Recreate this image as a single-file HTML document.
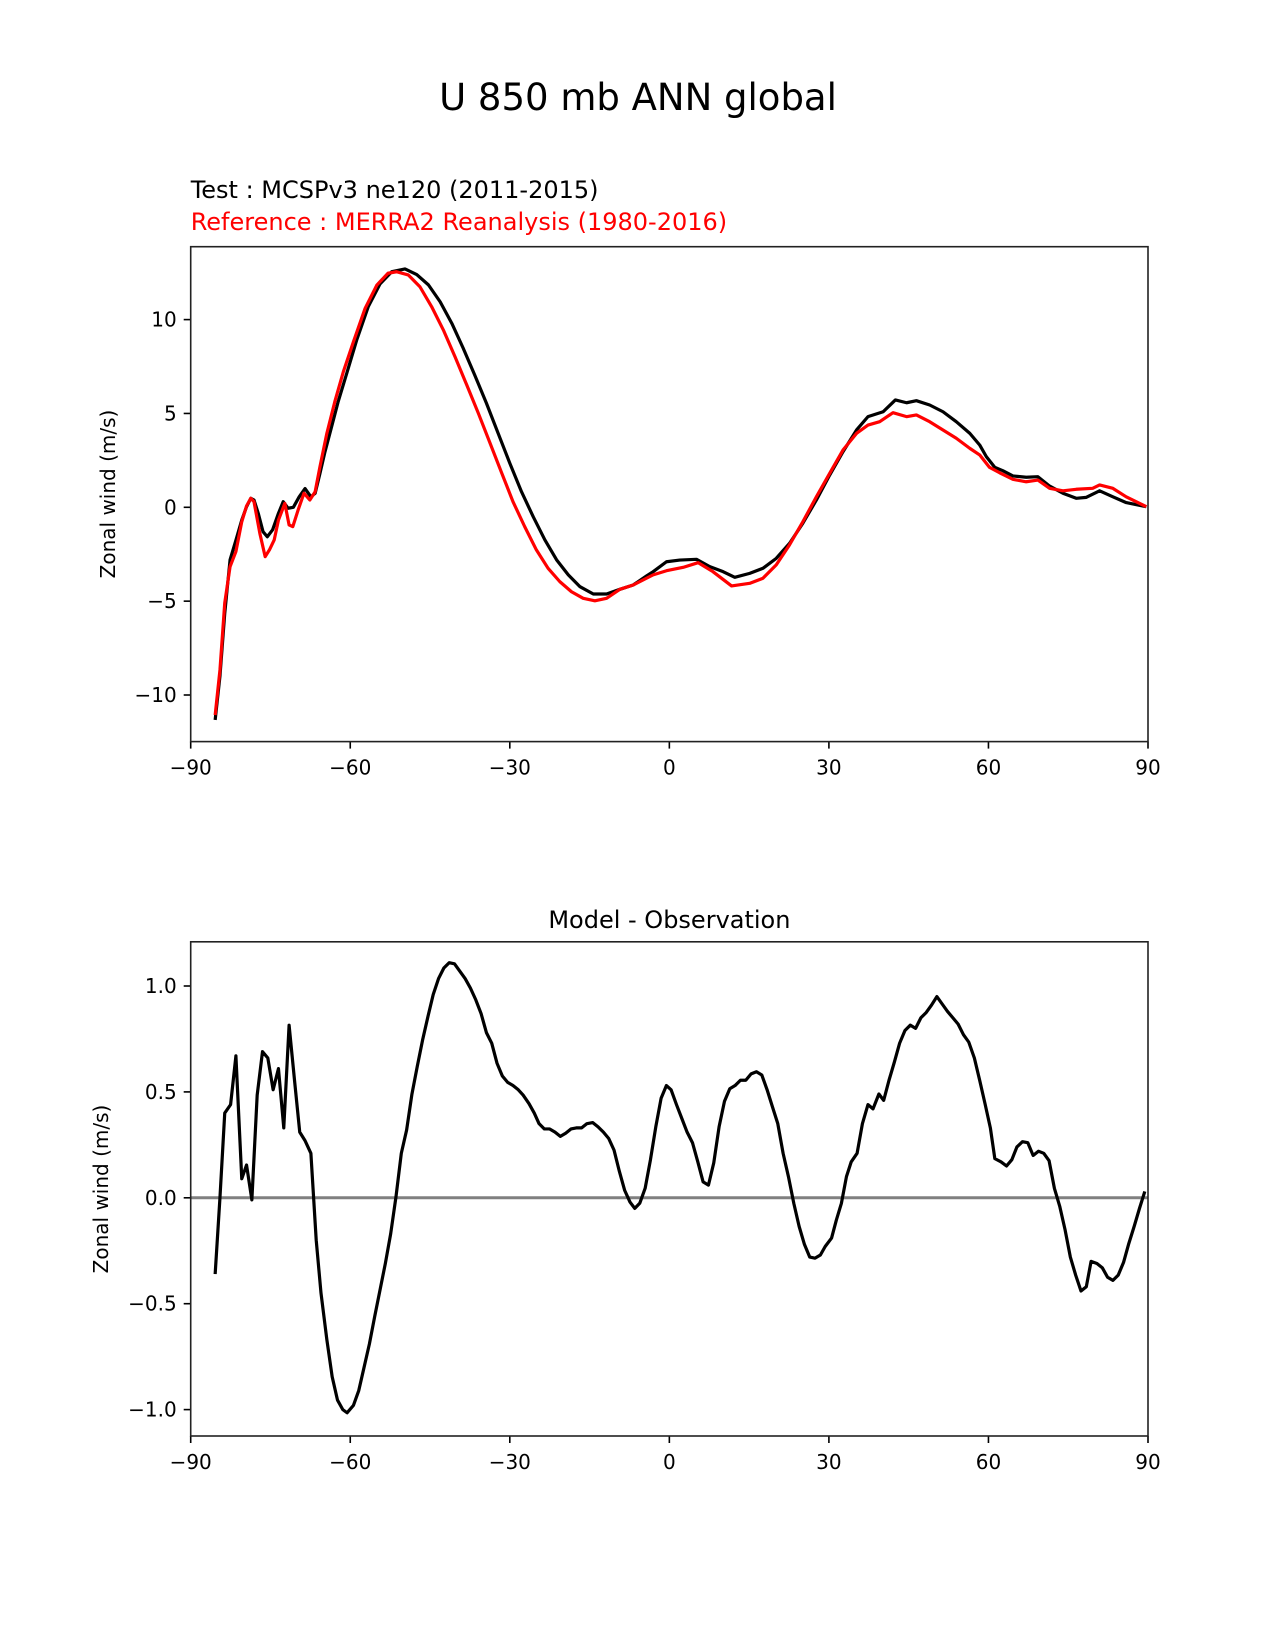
<!DOCTYPE html>
<html>
<head>
<meta charset="utf-8">
<style>
html,body{margin:0;padding:0;background:#fff;}
svg{display:block;}
text{font-family:"DejaVu Sans","Liberation Sans",sans-serif;}
</style>
</head>
<body>
<svg id="fig" width="1275" height="1650" viewBox="0 0 1275 1650" xmlns="http://www.w3.org/2000/svg">
  <rect x="0" y="0" width="1275" height="1650" fill="#fff"/>
  <text x="638" y="110" font-size="37" text-anchor="middle" fill="#000">U 850 mb ANN global</text>
  <text x="190.7" y="198" font-size="24" fill="#000">Test : MCSPv3 ne120 (2011-2015)</text>
  <text x="190.7" y="230" font-size="24" fill="#ff0000">Reference : MERRA2 Reanalysis (1980-2016)</text>
  <text x="669.4" y="928" font-size="24" text-anchor="middle" fill="#000">Model - Observation</text>
  <g id="top"></g>
  <g id="bot"></g>
</svg>
<script>
// ---- data ----
const xTicks = [-90, -60, -30, 0, 30, 60, 90];
const topYTicks = [-10, -5, 0, 5, 10];
const botYTicks = [-1.0, -0.5, 0.0, 0.5, 1.0];
const botYTickLabels = ["\u22121.0", "\u22120.5", "0.0", "0.5", "1.0"];

const testLat = [-85.4,-84.5,-83.6,-82.6,-81.5,-80.4,-79.5,-78.7,-78.1,-77.3,-76.4,-75.6,-74.6,-73.5,-72.6,-71.7,-70.7,-69.6,-68.5,-67.4,-66.6,-65.7,-64.8,-63.5,-62.3,-60.7,-58.8,-56.6,-54.4,-52.2,-49.7,-47.5,-45.3,-43.1,-40.9,-38.8,-36.6,-34.4,-32.2,-30.0,-27.8,-25.6,-23.4,-21.2,-19.0,-16.8,-14.3,-11.8,-9.3,-6.8,-4.3,-3.05,-0.54,1.96,5.1,7.6,10.1,12.3,15.1,17.6,20.1,22.6,25.1,27.65,30.15,32.65,35.2,37.35,40.2,42.5,44.6,46.45,48.95,51.45,53.95,56.5,58.35,59.6,61.2,62.7,64.6,67.1,69.3,71.5,74.0,76.5,78.4,80.9,83.4,85.9,89.7];
const testVal = [-11.33,-9.0,-5.65,-2.8,-1.75,-0.68,0.03,0.48,0.39,-0.32,-1.3,-1.57,-1.2,-0.32,0.3,-0.05,0.0,0.56,1.0,0.56,0.75,1.8,2.9,4.3,5.6,7.1,8.9,10.7,11.9,12.55,12.7,12.4,11.85,10.95,9.8,8.5,7.05,5.55,3.95,2.35,0.83,-0.5,-1.74,-2.8,-3.6,-4.23,-4.62,-4.62,-4.37,-4.14,-3.66,-3.43,-2.9,-2.81,-2.77,-3.16,-3.43,-3.73,-3.52,-3.25,-2.72,-1.92,-0.85,0.39,1.72,2.96,4.12,4.83,5.09,5.72,5.57,5.68,5.45,5.09,4.56,3.94,3.32,2.7,2.13,1.95,1.67,1.6,1.63,1.13,0.75,0.48,0.53,0.88,0.56,0.25,0.03];

const refLat = [-85.4,-84.5,-83.6,-82.6,-81.5,-80.4,-79.5,-78.7,-78.1,-77.0,-76.0,-75.2,-74.3,-73.5,-72.3,-71.5,-70.8,-69.8,-68.7,-67.6,-66.6,-65.7,-64.4,-62.9,-61.3,-59.4,-57.2,-55.0,-52.9,-51.3,-49.1,-46.9,-44.7,-42.5,-40.3,-38.1,-35.9,-33.7,-31.5,-29.4,-27.2,-25.0,-22.8,-20.6,-18.4,-16.2,-14.0,-11.8,-9.3,-6.8,-4.3,-3.05,-0.54,2.6,5.4,8.2,11.7,15.1,17.6,20.1,22.6,25.1,27.65,30.15,32.65,35.2,37.35,39.55,42.05,44.6,46.45,48.95,51.45,53.95,56.5,58.35,60.2,62.1,64.6,67.1,69.3,71.5,74.0,76.5,79.6,80.9,83.4,85.9,89.7];
const refVal = [-11.07,-8.67,-5.1,-3.16,-2.36,-0.77,0.07,0.48,0.3,-1.39,-2.63,-2.27,-1.74,-0.68,0.21,-0.94,-1.03,-0.14,0.75,0.39,0.83,2.16,3.94,5.63,7.22,8.82,10.6,11.84,12.47,12.55,12.38,11.75,10.69,9.45,8.02,6.52,5.0,3.41,1.81,0.3,-1.03,-2.27,-3.25,-3.96,-4.5,-4.85,-4.98,-4.85,-4.37,-4.14,-3.78,-3.6,-3.38,-3.2,-2.95,-3.43,-4.19,-4.05,-3.78,-3.07,-2.0,-0.77,0.56,1.81,3.05,3.94,4.38,4.56,5.04,4.83,4.92,4.56,4.12,3.68,3.14,2.79,2.13,1.84,1.49,1.36,1.45,1.01,0.88,0.96,1.01,1.19,1.01,0.56,0.03];

const diffLat = [-85.4,-84.5,-83.6,-82.5,-81.5,-80.4,-79.5,-78.5,-77.5,-76.5,-75.5,-74.5,-73.5,-72.5,-71.5,-70.5,-69.5,-68.5,-67.4,-66.4,-65.5,-64.4,-63.4,-62.4,-61.4,-60.6,-59.4,-58.4,-57.4,-56.4,-55.4,-54.4,-53.4,-52.4,-51.4,-50.4,-49.4,-48.4,-47.4,-46.4,-45.4,-44.4,-43.4,-42.4,-41.4,-40.4,-39.4,-38.4,-37.4,-36.4,-35.4,-34.4,-33.4,-32.4,-31.4,-30.4,-29.4,-28.4,-27.5,-26.4,-25.4,-24.5,-23.5,-22.5,-21.5,-20.5,-19.5,-18.5,-17.5,-16.5,-15.5,-14.4,-13.4,-12.4,-11.4,-10.4,-9.4,-8.4,-7.4,-6.5,-5.55,-4.55,-3.55,-2.55,-1.55,-0.55,0.33,1.34,2.34,3.34,4.35,5.35,6.35,7.35,8.35,9.35,10.36,11.36,12.36,13.37,14.37,15.37,16.38,17.38,18.38,19.38,20.39,21.39,22.39,23.4,24.4,25.4,26.4,27.4,28.4,29.3,30.5,31.4,32.35,33.3,34.2,35.3,36.3,37.35,38.3,39.4,40.3,41.3,42.3,43.3,44.3,45.3,46.3,47.3,48.3,49.3,50.3,51.3,52.3,53.3,54.3,55.3,56.3,57.35,58.35,59.35,60.36,61.2,62.35,63.4,64.4,65.35,66.4,67.4,68.4,69.4,70.4,71.4,72.4,73.4,74.4,75.4,76.4,77.4,78.4,79.3,80.4,81.4,82.4,83.4,84.4,85.4,86.4,87.4,88.4,89.4];
const diffVal = [-0.36,0.0,0.40,0.44,0.67,0.09,0.155,-0.01,0.485,0.69,0.66,0.51,0.61,0.33,0.815,0.56,0.31,0.27,0.21,-0.20,-0.45,-0.67,-0.845,-0.955,-1.0,-1.015,-0.98,-0.91,-0.80,-0.69,-0.56,-0.435,-0.31,-0.17,0.005,0.21,0.32,0.49,0.62,0.745,0.855,0.96,1.035,1.085,1.11,1.105,1.07,1.035,0.99,0.935,0.87,0.78,0.73,0.635,0.575,0.545,0.53,0.51,0.485,0.445,0.40,0.35,0.325,0.325,0.31,0.29,0.305,0.325,0.33,0.33,0.35,0.355,0.335,0.31,0.28,0.225,0.125,0.035,-0.02,-0.05,-0.025,0.045,0.18,0.335,0.47,0.53,0.51,0.44,0.375,0.31,0.26,0.17,0.075,0.06,0.165,0.335,0.455,0.515,0.53,0.555,0.555,0.585,0.595,0.58,0.51,0.43,0.35,0.21,0.10,-0.026,-0.135,-0.22,-0.28,-0.285,-0.27,-0.23,-0.19,-0.105,-0.026,0.10,0.17,0.21,0.35,0.44,0.42,0.49,0.46,0.555,0.64,0.73,0.79,0.815,0.80,0.85,0.875,0.91,0.95,0.915,0.88,0.85,0.82,0.77,0.735,0.66,0.555,0.445,0.33,0.185,0.17,0.15,0.18,0.24,0.265,0.26,0.20,0.22,0.21,0.175,0.045,-0.04,-0.15,-0.28,-0.365,-0.44,-0.42,-0.30,-0.31,-0.33,-0.375,-0.39,-0.365,-0.305,-0.215,-0.135,-0.05,0.03];

// ---- layout ----
const NS = "http://www.w3.org/2000/svg";
const X0 = 190.7, X1 = 1148;
function xScale(lat){ return X0 + (lat + 90) * (X1 - X0) / 180; }
const topBox = {y0: 246.7, y1: 741.6};
const botBox = {y0: 941.8, y1: 1436};
function yTop(v){ return 507.3 - v * 18.77; }
function yBot(v){ return 1197.8 - v * 211.8; }

function mk(tag, attrs, parent){
  const el = document.createElementNS(NS, tag);
  for (const k in attrs) el.setAttribute(k, attrs[k]);
  parent.appendChild(el);
  return el;
}
function fmt(v){ return (v < 0 ? "\u2212" : "") + Math.abs(v); }

function drawAxes(g, box, yTicks, yLabels, yFn, prefix){
  // x ticks
  xTicks.forEach((t, i) => {
    const x = xScale(t);
    const tk = mk("line", {x1:x, x2:x, y1:box.y1, y2:box.y1+7, stroke:"#000", "stroke-width":1.6}, g);
    
    
    const lb = mk("text", {x:x, y:box.y1+33, "font-size":20, "text-anchor":"middle", fill:"#000"}, g);
    lb.textContent = fmt(t);
    
    
  });
  yTicks.forEach((t, i) => {
    const y = yFn(t);
    const tk = mk("line", {x1:X0-7, x2:X0, y1:y, y2:y, stroke:"#000", "stroke-width":1.6}, g);
    
    
    const lb = mk("text", {x:X0-14, y:y+7, "font-size":20, "text-anchor":"end", fill:"#000"}, g);
    lb.textContent = yLabels[i];
    
    
  });
}
function drawFrame(g, box, prefix){
  const r = mk("rect", {x:X0, y:box.y0, width:X1-X0, height:box.y1-box.y0, fill:"none", stroke:"#222", "stroke-width":1.6}, g);
  
  
}
function drawLine(g, lats, vals, yFn, color, name){
  const pts = lats.map((l, i) => xScale(l).toFixed(2) + "," + yFn(vals[i]).toFixed(2)).join(" ");
  const p = mk("polyline", {points:pts, fill:"none", stroke:color, "stroke-width":3.2, "stroke-linejoin":"round"}, g);
  
  
}
function yLabel(g, cx, cy, name){
  const t = mk("text", {x:0, y:0, "font-size":20, "text-anchor":"middle", fill:"#000", transform:"translate("+cx+","+cy+") rotate(-90)"}, g);
  t.textContent = "Zonal wind (m/s)";
  
  
}

const gt = document.getElementById("top");
const gb = document.getElementById("bot");

// top panel
drawAxes(gt, topBox, topYTicks, topYTicks.map(fmt), yTop, "top");
drawLine(gt, testLat, testVal, yTop, "#000", "test-line");
drawLine(gt, refLat, refVal, yTop, "#ff0000", "reference-line");
drawFrame(gt, topBox, "top");
yLabel(gt, 115, 494, "top-y-axis-title");

// bottom panel
drawAxes(gb, botBox, botYTicks, botYTickLabels, yBot, "diff");
const zl = mk("line", {x1:X0, x2:X1, y1:yBot(0), y2:yBot(0), stroke:"#808080", "stroke-width":3}, gb);


drawLine(gb, diffLat, diffVal, yBot, "#000", "difference-line");
drawFrame(gb, botBox, "diff");
yLabel(gb, 108, 1189, "diff-y-axis-title");
</script>
</body>
</html>
